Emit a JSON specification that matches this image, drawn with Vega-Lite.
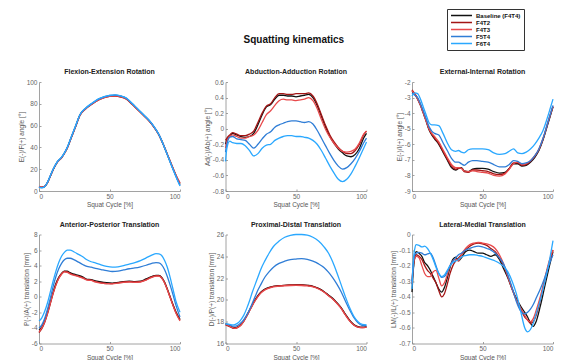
{
"$schema": "https://vega.github.io/schema/vega-lite/v6.json",
"padding": {"left": 18, "top": 8, "right": 0, "bottom": 0},
"background": "white",
"title": {"text": "Squatting kinematics", "fontSize": 10, "anchor": "middle", "dx": 7, "offset": -36, "color": "#111"},
"config": {
"font": "Liberation Sans",
"view": {"stroke": null},
"axis": {"grid": false, "domainColor": "#8a8a8a", "tickColor": "#8a8a8a", "labelColor": "#666", "titleColor": "#555", "labelFontSize": 6.5, "titleFontSize": 6.5, "titleFontWeight": "normal", "tickSize": -2, "labelPadding": 4, "domainWidth": 0.8, "tickWidth": 0.8, "titlePadding": 2},
"title": {"fontSize": 7, "fontWeight": "bold", "color": "#222", "offset": 4}
},
"datasets": {
"fe": [
{"s":"F4T4","x":0,"y":3.8},{"s":"F4T4","x":2,"y":3.3},{"s":"F4T4","x":4,"y":4.1},{"s":"F4T4","x":6,"y":7.7},{"s":"F4T4","x":8,"y":13.6},{"s":"F4T4","x":10,"y":19.6},{"s":"F4T4","x":13,"y":26.6},{"s":"F4T4","x":16,"y":30.7},{"s":"F4T4","x":18,"y":34.6},{"s":"F4T4","x":20,"y":39.5},{"s":"F4T4","x":23,"y":49.5},{"s":"F4T4","x":26,"y":59.5},{"s":"F4T4","x":29,"y":69.6},{"s":"F4T4","x":33,"y":75.6},{"s":"F4T4","x":37,"y":79.6},{"s":"F4T4","x":43,"y":84.5},{"s":"F4T4","x":50,"y":87.3},{"s":"F4T4","x":54,"y":87.7},{"s":"F4T4","x":58,"y":86.8},{"s":"F4T4","x":62,"y":84.7},{"s":"F4T4","x":66,"y":80},{"s":"F4T4","x":70,"y":74.9},{"s":"F4T4","x":74,"y":69.9},{"s":"F4T4","x":78,"y":64.7},{"s":"F4T4","x":81,"y":59.8},{"s":"F4T4","x":85,"y":51.7},{"s":"F4T4","x":89,"y":40},{"s":"F4T4","x":92,"y":30.2},{"s":"F4T4","x":95,"y":20.5},{"s":"F4T4","x":98,"y":11.3},{"s":"F4T4","x":100,"y":6},
{"s":"F4T2","x":0,"y":4},{"s":"F4T2","x":2,"y":3.5},{"s":"F4T2","x":4,"y":4.2},{"s":"F4T2","x":6,"y":7.6},{"s":"F4T2","x":8,"y":13.5},{"s":"F4T2","x":10,"y":19.5},{"s":"F4T2","x":13,"y":26.5},{"s":"F4T2","x":16,"y":30.5},{"s":"F4T2","x":18,"y":34.5},{"s":"F4T2","x":20,"y":39.3},{"s":"F4T2","x":23,"y":49.3},{"s":"F4T2","x":26,"y":59.3},{"s":"F4T2","x":29,"y":69.4},{"s":"F4T2","x":33,"y":75.3},{"s":"F4T2","x":37,"y":79.2},{"s":"F4T2","x":43,"y":84},{"s":"F4T2","x":50,"y":86.8},{"s":"F4T2","x":54,"y":87.1},{"s":"F4T2","x":58,"y":86.2},{"s":"F4T2","x":62,"y":84.2},{"s":"F4T2","x":66,"y":79.5},{"s":"F4T2","x":70,"y":74.5},{"s":"F4T2","x":74,"y":69.5},{"s":"F4T2","x":78,"y":64.4},{"s":"F4T2","x":81,"y":59.6},{"s":"F4T2","x":85,"y":51.6},{"s":"F4T2","x":89,"y":40.1},{"s":"F4T2","x":92,"y":30.5},{"s":"F4T2","x":95,"y":21},{"s":"F4T2","x":98,"y":12},{"s":"F4T2","x":100,"y":7},
{"s":"F4T3","x":0,"y":4.2},{"s":"F4T3","x":2,"y":3.6},{"s":"F4T3","x":4,"y":4.3},{"s":"F4T3","x":6,"y":7.7},{"s":"F4T3","x":8,"y":13.6},{"s":"F4T3","x":10,"y":19.5},{"s":"F4T3","x":13,"y":26.4},{"s":"F4T3","x":16,"y":30.4},{"s":"F4T3","x":18,"y":34.4},{"s":"F4T3","x":20,"y":39.2},{"s":"F4T3","x":23,"y":49.2},{"s":"F4T3","x":26,"y":59.2},{"s":"F4T3","x":29,"y":69.3},{"s":"F4T3","x":33,"y":75.2},{"s":"F4T3","x":37,"y":79.3},{"s":"F4T3","x":43,"y":84.1},{"s":"F4T3","x":50,"y":86.9},{"s":"F4T3","x":54,"y":87.3},{"s":"F4T3","x":58,"y":86.4},{"s":"F4T3","x":62,"y":84.4},{"s":"F4T3","x":66,"y":79.7},{"s":"F4T3","x":70,"y":74.6},{"s":"F4T3","x":74,"y":69.6},{"s":"F4T3","x":78,"y":64.5},{"s":"F4T3","x":81,"y":59.7},{"s":"F4T3","x":85,"y":51.7},{"s":"F4T3","x":89,"y":40.2},{"s":"F4T3","x":92,"y":30.6},{"s":"F4T3","x":95,"y":21.2},{"s":"F4T3","x":98,"y":12.3},{"s":"F4T3","x":100,"y":7.5},
{"s":"F5T4","x":0,"y":3.6},{"s":"F5T4","x":2,"y":3.1},{"s":"F5T4","x":4,"y":4},{"s":"F5T4","x":6,"y":7.8},{"s":"F5T4","x":8,"y":13.8},{"s":"F5T4","x":10,"y":19.8},{"s":"F5T4","x":13,"y":26.8},{"s":"F5T4","x":16,"y":30.8},{"s":"F5T4","x":18,"y":34.8},{"s":"F5T4","x":20,"y":39.8},{"s":"F5T4","x":23,"y":49.7},{"s":"F5T4","x":26,"y":59.7},{"s":"F5T4","x":29,"y":69.8},{"s":"F5T4","x":33,"y":75.8},{"s":"F5T4","x":37,"y":79.8},{"s":"F5T4","x":43,"y":84.8},{"s":"F5T4","x":50,"y":87.6},{"s":"F5T4","x":54,"y":88},{"s":"F5T4","x":58,"y":87.1},{"s":"F5T4","x":62,"y":85},{"s":"F5T4","x":66,"y":80.3},{"s":"F5T4","x":70,"y":75.2},{"s":"F5T4","x":74,"y":70.1},{"s":"F5T4","x":78,"y":64.9},{"s":"F5T4","x":81,"y":60},{"s":"F5T4","x":85,"y":51.8},{"s":"F5T4","x":89,"y":39.9},{"s":"F5T4","x":92,"y":30},{"s":"F5T4","x":95,"y":20.2},{"s":"F5T4","x":98,"y":10.8},{"s":"F5T4","x":100,"y":5},
{"s":"F6T4","x":0,"y":3.5},{"s":"F6T4","x":2,"y":3},{"s":"F6T4","x":4,"y":4},{"s":"F6T4","x":6,"y":8},{"s":"F6T4","x":8,"y":14},{"s":"F6T4","x":10,"y":20},{"s":"F6T4","x":13,"y":27},{"s":"F6T4","x":16,"y":31},{"s":"F6T4","x":18,"y":35},{"s":"F6T4","x":20,"y":40},{"s":"F6T4","x":23,"y":50},{"s":"F6T4","x":26,"y":60},{"s":"F6T4","x":29,"y":70},{"s":"F6T4","x":33,"y":76},{"s":"F6T4","x":37,"y":80},{"s":"F6T4","x":43,"y":85},{"s":"F6T4","x":50,"y":87.8},{"s":"F6T4","x":54,"y":88.2},{"s":"F6T4","x":58,"y":87.3},{"s":"F6T4","x":62,"y":85.3},{"s":"F6T4","x":66,"y":80.5},{"s":"F6T4","x":70,"y":75.3},{"s":"F6T4","x":74,"y":70.2},{"s":"F6T4","x":78,"y":65},{"s":"F6T4","x":81,"y":60.2},{"s":"F6T4","x":85,"y":52},{"s":"F6T4","x":89,"y":40},{"s":"F6T4","x":92,"y":30},{"s":"F6T4","x":95,"y":20},{"s":"F6T4","x":98,"y":10.5},{"s":"F6T4","x":100,"y":4.5}
],
"aa": [
{"s":"F4T4","x":0,"y":-0.2},{"s":"F4T4","x":1,"y":-0.14},{"s":"F4T4","x":3,"y":-0.1},{"s":"F4T4","x":5,"y":-0.06},{"s":"F4T4","x":8,"y":-0.08},{"s":"F4T4","x":11,"y":-0.1},{"s":"F4T4","x":14,"y":-0.11},{"s":"F4T4","x":17,"y":-0.1},{"s":"F4T4","x":20,"y":-0.06},{"s":"F4T4","x":23,"y":0.05},{"s":"F4T4","x":26,"y":0.18},{"s":"F4T4","x":29,"y":0.28},{"s":"F4T4","x":32,"y":0.31},{"s":"F4T4","x":35,"y":0.38},{"s":"F4T4","x":38,"y":0.43},{"s":"F4T4","x":41,"y":0.43},{"s":"F4T4","x":44,"y":0.42},{"s":"F4T4","x":47,"y":0.42},{"s":"F4T4","x":50,"y":0.41},{"s":"F4T4","x":53,"y":0.42},{"s":"F4T4","x":56,"y":0.43},{"s":"F4T4","x":59,"y":0.44},{"s":"F4T4","x":62,"y":0.4},{"s":"F4T4","x":65,"y":0.3},{"s":"F4T4","x":68,"y":0.16},{"s":"F4T4","x":71,"y":0.02},{"s":"F4T4","x":74,"y":-0.1},{"s":"F4T4","x":77,"y":-0.19},{"s":"F4T4","x":80,"y":-0.26},{"s":"F4T4","x":83,"y":-0.31},{"s":"F4T4","x":86,"y":-0.35},{"s":"F4T4","x":89,"y":-0.36},{"s":"F4T4","x":92,"y":-0.33},{"s":"F4T4","x":95,"y":-0.25},{"s":"F4T4","x":98,"y":-0.12},{"s":"F4T4","x":100,"y":-0.06},
{"s":"F4T2","x":0,"y":-0.15},{"s":"F4T2","x":1,"y":-0.12},{"s":"F4T2","x":3,"y":-0.08},{"s":"F4T2","x":5,"y":-0.05},{"s":"F4T2","x":8,"y":-0.07},{"s":"F4T2","x":11,"y":-0.09},{"s":"F4T2","x":14,"y":-0.09},{"s":"F4T2","x":17,"y":-0.07},{"s":"F4T2","x":20,"y":-0.03},{"s":"F4T2","x":23,"y":0.08},{"s":"F4T2","x":26,"y":0.2},{"s":"F4T2","x":29,"y":0.29},{"s":"F4T2","x":32,"y":0.32},{"s":"F4T2","x":35,"y":0.4},{"s":"F4T2","x":38,"y":0.45},{"s":"F4T2","x":41,"y":0.45},{"s":"F4T2","x":44,"y":0.44},{"s":"F4T2","x":47,"y":0.44},{"s":"F4T2","x":50,"y":0.45},{"s":"F4T2","x":53,"y":0.45},{"s":"F4T2","x":56,"y":0.45},{"s":"F4T2","x":59,"y":0.46},{"s":"F4T2","x":62,"y":0.42},{"s":"F4T2","x":65,"y":0.32},{"s":"F4T2","x":68,"y":0.18},{"s":"F4T2","x":71,"y":0.04},{"s":"F4T2","x":74,"y":-0.08},{"s":"F4T2","x":77,"y":-0.17},{"s":"F4T2","x":80,"y":-0.24},{"s":"F4T2","x":83,"y":-0.29},{"s":"F4T2","x":86,"y":-0.32},{"s":"F4T2","x":89,"y":-0.32},{"s":"F4T2","x":92,"y":-0.28},{"s":"F4T2","x":95,"y":-0.2},{"s":"F4T2","x":98,"y":-0.08},{"s":"F4T2","x":100,"y":-0.03},
{"s":"F4T3","x":0,"y":-0.25},{"s":"F4T3","x":1,"y":-0.16},{"s":"F4T3","x":3,"y":-0.1},{"s":"F4T3","x":5,"y":-0.08},{"s":"F4T3","x":8,"y":-0.1},{"s":"F4T3","x":11,"y":-0.12},{"s":"F4T3","x":14,"y":-0.12},{"s":"F4T3","x":17,"y":-0.1},{"s":"F4T3","x":20,"y":-0.08},{"s":"F4T3","x":23,"y":-0.02},{"s":"F4T3","x":26,"y":0.08},{"s":"F4T3","x":29,"y":0.18},{"s":"F4T3","x":32,"y":0.23},{"s":"F4T3","x":35,"y":0.3},{"s":"F4T3","x":38,"y":0.36},{"s":"F4T3","x":41,"y":0.38},{"s":"F4T3","x":44,"y":0.37},{"s":"F4T3","x":47,"y":0.37},{"s":"F4T3","x":50,"y":0.36},{"s":"F4T3","x":53,"y":0.37},{"s":"F4T3","x":56,"y":0.38},{"s":"F4T3","x":59,"y":0.4},{"s":"F4T3","x":62,"y":0.36},{"s":"F4T3","x":65,"y":0.26},{"s":"F4T3","x":68,"y":0.12},{"s":"F4T3","x":71,"y":-0.01},{"s":"F4T3","x":74,"y":-0.11},{"s":"F4T3","x":77,"y":-0.19},{"s":"F4T3","x":80,"y":-0.25},{"s":"F4T3","x":83,"y":-0.29},{"s":"F4T3","x":86,"y":-0.3},{"s":"F4T3","x":89,"y":-0.29},{"s":"F4T3","x":92,"y":-0.26},{"s":"F4T3","x":95,"y":-0.18},{"s":"F4T3","x":98,"y":-0.07},{"s":"F4T3","x":100,"y":-0.03},
{"s":"F5T4","x":0,"y":-0.3},{"s":"F5T4","x":1,"y":-0.2},{"s":"F5T4","x":3,"y":-0.11},{"s":"F5T4","x":5,"y":-0.1},{"s":"F5T4","x":8,"y":-0.13},{"s":"F5T4","x":11,"y":-0.14},{"s":"F5T4","x":14,"y":-0.15},{"s":"F5T4","x":17,"y":-0.2},{"s":"F5T4","x":20,"y":-0.25},{"s":"F5T4","x":23,"y":-0.2},{"s":"F5T4","x":26,"y":-0.13},{"s":"F5T4","x":29,"y":-0.07},{"s":"F5T4","x":32,"y":-0.04},{"s":"F5T4","x":35,"y":0.02},{"s":"F5T4","x":38,"y":0.05},{"s":"F5T4","x":41,"y":0.07},{"s":"F5T4","x":44,"y":0.09},{"s":"F5T4","x":47,"y":0.1},{"s":"F5T4","x":50,"y":0.1},{"s":"F5T4","x":53,"y":0.09},{"s":"F5T4","x":56,"y":0.08},{"s":"F5T4","x":59,"y":0.09},{"s":"F5T4","x":62,"y":0.06},{"s":"F5T4","x":65,"y":-0.02},{"s":"F5T4","x":68,"y":-0.12},{"s":"F5T4","x":71,"y":-0.22},{"s":"F5T4","x":74,"y":-0.32},{"s":"F5T4","x":77,"y":-0.41},{"s":"F5T4","x":80,"y":-0.48},{"s":"F5T4","x":83,"y":-0.52},{"s":"F5T4","x":86,"y":-0.5},{"s":"F5T4","x":89,"y":-0.45},{"s":"F5T4","x":92,"y":-0.38},{"s":"F5T4","x":95,"y":-0.29},{"s":"F5T4","x":98,"y":-0.18},{"s":"F5T4","x":100,"y":-0.12},
{"s":"F6T4","x":0,"y":-0.42},{"s":"F6T4","x":1,"y":-0.25},{"s":"F6T4","x":3,"y":-0.16},{"s":"F6T4","x":5,"y":-0.18},{"s":"F6T4","x":8,"y":-0.19},{"s":"F6T4","x":11,"y":-0.19},{"s":"F6T4","x":14,"y":-0.22},{"s":"F6T4","x":17,"y":-0.28},{"s":"F6T4","x":20,"y":-0.35},{"s":"F6T4","x":23,"y":-0.32},{"s":"F6T4","x":26,"y":-0.25},{"s":"F6T4","x":29,"y":-0.21},{"s":"F6T4","x":32,"y":-0.2},{"s":"F6T4","x":35,"y":-0.15},{"s":"F6T4","x":38,"y":-0.12},{"s":"F6T4","x":41,"y":-0.1},{"s":"F6T4","x":44,"y":-0.09},{"s":"F6T4","x":47,"y":-0.09},{"s":"F6T4","x":50,"y":-0.1},{"s":"F6T4","x":53,"y":-0.1},{"s":"F6T4","x":56,"y":-0.11},{"s":"F6T4","x":59,"y":-0.12},{"s":"F6T4","x":62,"y":-0.15},{"s":"F6T4","x":65,"y":-0.2},{"s":"F6T4","x":68,"y":-0.28},{"s":"F6T4","x":71,"y":-0.38},{"s":"F6T4","x":74,"y":-0.48},{"s":"F6T4","x":77,"y":-0.57},{"s":"F6T4","x":80,"y":-0.65},{"s":"F6T4","x":83,"y":-0.68},{"s":"F6T4","x":86,"y":-0.65},{"s":"F6T4","x":89,"y":-0.58},{"s":"F6T4","x":92,"y":-0.48},{"s":"F6T4","x":95,"y":-0.37},{"s":"F6T4","x":98,"y":-0.25},{"s":"F6T4","x":100,"y":-0.17}
],
"ei": [
{"s":"F4T4","x":0,"y":-2.6},{"s":"F4T4","x":2,"y":-2.8},{"s":"F4T4","x":4,"y":-3.1},{"s":"F4T4","x":6,"y":-3.5},{"s":"F4T4","x":8,"y":-4},{"s":"F4T4","x":10,"y":-4.5},{"s":"F4T4","x":12,"y":-5.05},{"s":"F4T4","x":14,"y":-5.4},{"s":"F4T4","x":16,"y":-5.65},{"s":"F4T4","x":19,"y":-6},{"s":"F4T4","x":22,"y":-6.5},{"s":"F4T4","x":25,"y":-7},{"s":"F4T4","x":28,"y":-7.5},{"s":"F4T4","x":31,"y":-7.65},{"s":"F4T4","x":33,"y":-7.55},{"s":"F4T4","x":35,"y":-7.5},{"s":"F4T4","x":37,"y":-7.7},{"s":"F4T4","x":40,"y":-7.75},{"s":"F4T4","x":43,"y":-7.6},{"s":"F4T4","x":46,"y":-7.55},{"s":"F4T4","x":50,"y":-7.55},{"s":"F4T4","x":54,"y":-7.6},{"s":"F4T4","x":58,"y":-7.75},{"s":"F4T4","x":62,"y":-7.85},{"s":"F4T4","x":66,"y":-7.8},{"s":"F4T4","x":69,"y":-7.55},{"s":"F4T4","x":72,"y":-7.25},{"s":"F4T4","x":75,"y":-7.25},{"s":"F4T4","x":78,"y":-7.4},{"s":"F4T4","x":81,"y":-7.35},{"s":"F4T4","x":84,"y":-7.15},{"s":"F4T4","x":87,"y":-6.85},{"s":"F4T4","x":90,"y":-6.4},{"s":"F4T4","x":93,"y":-5.7},{"s":"F4T4","x":96,"y":-4.8},{"s":"F4T4","x":98,"y":-4.2},{"s":"F4T4","x":100,"y":-3.6},
{"s":"F4T2","x":0,"y":-2.5},{"s":"F4T2","x":2,"y":-2.75},{"s":"F4T2","x":4,"y":-3.05},{"s":"F4T2","x":6,"y":-3.45},{"s":"F4T2","x":8,"y":-3.95},{"s":"F4T2","x":10,"y":-4.45},{"s":"F4T2","x":12,"y":-5},{"s":"F4T2","x":14,"y":-5.35},{"s":"F4T2","x":16,"y":-5.6},{"s":"F4T2","x":19,"y":-5.95},{"s":"F4T2","x":22,"y":-6.45},{"s":"F4T2","x":25,"y":-6.95},{"s":"F4T2","x":28,"y":-7.4},{"s":"F4T2","x":31,"y":-7.6},{"s":"F4T2","x":33,"y":-7.55},{"s":"F4T2","x":35,"y":-7.55},{"s":"F4T2","x":37,"y":-7.75},{"s":"F4T2","x":40,"y":-7.8},{"s":"F4T2","x":43,"y":-7.65},{"s":"F4T2","x":46,"y":-7.65},{"s":"F4T2","x":50,"y":-7.7},{"s":"F4T2","x":54,"y":-7.75},{"s":"F4T2","x":58,"y":-7.9},{"s":"F4T2","x":62,"y":-7.95},{"s":"F4T2","x":66,"y":-7.85},{"s":"F4T2","x":69,"y":-7.55},{"s":"F4T2","x":72,"y":-7.2},{"s":"F4T2","x":75,"y":-7.2},{"s":"F4T2","x":78,"y":-7.35},{"s":"F4T2","x":81,"y":-7.3},{"s":"F4T2","x":84,"y":-7.1},{"s":"F4T2","x":87,"y":-6.8},{"s":"F4T2","x":90,"y":-6.35},{"s":"F4T2","x":93,"y":-5.65},{"s":"F4T2","x":96,"y":-4.75},{"s":"F4T2","x":98,"y":-4.15},{"s":"F4T2","x":100,"y":-3.6},
{"s":"F4T3","x":0,"y":-2.55},{"s":"F4T3","x":2,"y":-2.8},{"s":"F4T3","x":4,"y":-3.1},{"s":"F4T3","x":6,"y":-3.5},{"s":"F4T3","x":8,"y":-4},{"s":"F4T3","x":10,"y":-4.5},{"s":"F4T3","x":12,"y":-5},{"s":"F4T3","x":14,"y":-5.3},{"s":"F4T3","x":16,"y":-5.5},{"s":"F4T3","x":19,"y":-5.85},{"s":"F4T3","x":22,"y":-6.35},{"s":"F4T3","x":25,"y":-6.85},{"s":"F4T3","x":28,"y":-7.3},{"s":"F4T3","x":31,"y":-7.5},{"s":"F4T3","x":33,"y":-7.5},{"s":"F4T3","x":35,"y":-7.55},{"s":"F4T3","x":37,"y":-7.7},{"s":"F4T3","x":40,"y":-7.75},{"s":"F4T3","x":43,"y":-7.7},{"s":"F4T3","x":46,"y":-7.75},{"s":"F4T3","x":50,"y":-7.8},{"s":"F4T3","x":54,"y":-7.85},{"s":"F4T3","x":58,"y":-8},{"s":"F4T3","x":62,"y":-8.05},{"s":"F4T3","x":66,"y":-7.9},{"s":"F4T3","x":69,"y":-7.6},{"s":"F4T3","x":72,"y":-7.25},{"s":"F4T3","x":75,"y":-7.15},{"s":"F4T3","x":78,"y":-7.3},{"s":"F4T3","x":81,"y":-7.25},{"s":"F4T3","x":84,"y":-7.05},{"s":"F4T3","x":87,"y":-6.75},{"s":"F4T3","x":90,"y":-6.3},{"s":"F4T3","x":93,"y":-5.6},{"s":"F4T3","x":96,"y":-4.7},{"s":"F4T3","x":98,"y":-4.1},{"s":"F4T3","x":100,"y":-3.55},
{"s":"F5T4","x":0,"y":-2.7},{"s":"F5T4","x":2,"y":-2.85},{"s":"F5T4","x":4,"y":-3},{"s":"F5T4","x":6,"y":-3.4},{"s":"F5T4","x":8,"y":-3.85},{"s":"F5T4","x":10,"y":-4.35},{"s":"F5T4","x":12,"y":-4.85},{"s":"F5T4","x":14,"y":-5.15},{"s":"F5T4","x":16,"y":-5.3},{"s":"F5T4","x":19,"y":-5.4},{"s":"F5T4","x":22,"y":-5.9},{"s":"F5T4","x":25,"y":-6.4},{"s":"F5T4","x":28,"y":-6.9},{"s":"F5T4","x":31,"y":-7.15},{"s":"F5T4","x":33,"y":-7.15},{"s":"F5T4","x":35,"y":-7.25},{"s":"F5T4","x":37,"y":-7.35},{"s":"F5T4","x":40,"y":-7.15},{"s":"F5T4","x":43,"y":-7.05},{"s":"F5T4","x":46,"y":-7.05},{"s":"F5T4","x":50,"y":-7.1},{"s":"F5T4","x":54,"y":-7.15},{"s":"F5T4","x":58,"y":-7.3},{"s":"F5T4","x":62,"y":-7.45},{"s":"F5T4","x":66,"y":-7.45},{"s":"F5T4","x":69,"y":-7.3},{"s":"F5T4","x":72,"y":-7.05},{"s":"F5T4","x":75,"y":-7.1},{"s":"F5T4","x":78,"y":-7.25},{"s":"F5T4","x":81,"y":-7.2},{"s":"F5T4","x":84,"y":-7.05},{"s":"F5T4","x":87,"y":-6.75},{"s":"F5T4","x":90,"y":-6.3},{"s":"F5T4","x":93,"y":-5.6},{"s":"F5T4","x":96,"y":-4.7},{"s":"F5T4","x":98,"y":-4.1},{"s":"F5T4","x":100,"y":-3.5},
{"s":"F6T4","x":0,"y":-2.9},{"s":"F6T4","x":2,"y":-2.7},{"s":"F6T4","x":4,"y":-2.75},{"s":"F6T4","x":6,"y":-3.1},{"s":"F6T4","x":8,"y":-3.6},{"s":"F6T4","x":10,"y":-4.1},{"s":"F6T4","x":12,"y":-4.6},{"s":"F6T4","x":14,"y":-4.75},{"s":"F6T4","x":16,"y":-4.75},{"s":"F6T4","x":19,"y":-4.8},{"s":"F6T4","x":22,"y":-5.3},{"s":"F6T4","x":25,"y":-5.9},{"s":"F6T4","x":28,"y":-6.35},{"s":"F6T4","x":31,"y":-6.45},{"s":"F6T4","x":33,"y":-6.4},{"s":"F6T4","x":35,"y":-6.5},{"s":"F6T4","x":37,"y":-6.55},{"s":"F6T4","x":40,"y":-6.35},{"s":"F6T4","x":43,"y":-6.3},{"s":"F6T4","x":46,"y":-6.3},{"s":"F6T4","x":50,"y":-6.3},{"s":"F6T4","x":54,"y":-6.35},{"s":"F6T4","x":58,"y":-6.55},{"s":"F6T4","x":62,"y":-6.65},{"s":"F6T4","x":66,"y":-6.6},{"s":"F6T4","x":69,"y":-6.45},{"s":"F6T4","x":72,"y":-6.3},{"s":"F6T4","x":75,"y":-6.55},{"s":"F6T4","x":78,"y":-6.6},{"s":"F6T4","x":81,"y":-6.5},{"s":"F6T4","x":84,"y":-6.3},{"s":"F6T4","x":87,"y":-6},{"s":"F6T4","x":90,"y":-5.6},{"s":"F6T4","x":93,"y":-5.1},{"s":"F6T4","x":96,"y":-4.3},{"s":"F6T4","x":98,"y":-3.7},{"s":"F6T4","x":100,"y":-3.1}
],
"ap": [
{"s":"F4T4","x":0,"y":-4.3},{"s":"F4T4","x":2,"y":-3.9},{"s":"F4T4","x":4,"y":-3.1},{"s":"F4T4","x":6,"y":-2},{"s":"F4T4","x":8,"y":-0.7},{"s":"F4T4","x":10,"y":0.6},{"s":"F4T4","x":12,"y":1.7},{"s":"F4T4","x":14,"y":2.5},{"s":"F4T4","x":16,"y":3},{"s":"F4T4","x":18,"y":3.3},{"s":"F4T4","x":20,"y":3.3},{"s":"F4T4","x":22,"y":3.1},{"s":"F4T4","x":25,"y":2.9},{"s":"F4T4","x":28,"y":2.75},{"s":"F4T4","x":31,"y":2.55},{"s":"F4T4","x":34,"y":2.25},{"s":"F4T4","x":37,"y":2.2},{"s":"F4T4","x":40,"y":2.05},{"s":"F4T4","x":44,"y":1.9},{"s":"F4T4","x":48,"y":1.8},{"s":"F4T4","x":52,"y":1.75},{"s":"F4T4","x":56,"y":1.85},{"s":"F4T4","x":60,"y":1.95},{"s":"F4T4","x":64,"y":2},{"s":"F4T4","x":68,"y":1.95},{"s":"F4T4","x":72,"y":2},{"s":"F4T4","x":76,"y":2.3},{"s":"F4T4","x":80,"y":2.6},{"s":"F4T4","x":83,"y":2.75},{"s":"F4T4","x":85,"y":2.75},{"s":"F4T4","x":87,"y":2.5},{"s":"F4T4","x":89,"y":1.9},{"s":"F4T4","x":91,"y":1},{"s":"F4T4","x":93,"y":0},{"s":"F4T4","x":95,"y":-1},{"s":"F4T4","x":97,"y":-1.9},{"s":"F4T4","x":100,"y":-2.9},
{"s":"F4T2","x":0,"y":-4.6},{"s":"F4T2","x":2,"y":-4.1},{"s":"F4T2","x":4,"y":-3.3},{"s":"F4T2","x":6,"y":-2.2},{"s":"F4T2","x":8,"y":-0.9},{"s":"F4T2","x":10,"y":0.4},{"s":"F4T2","x":12,"y":1.55},{"s":"F4T2","x":14,"y":2.4},{"s":"F4T2","x":16,"y":2.95},{"s":"F4T2","x":18,"y":3.25},{"s":"F4T2","x":20,"y":3.2},{"s":"F4T2","x":22,"y":3},{"s":"F4T2","x":25,"y":2.8},{"s":"F4T2","x":28,"y":2.65},{"s":"F4T2","x":31,"y":2.45},{"s":"F4T2","x":34,"y":2.2},{"s":"F4T2","x":37,"y":2.15},{"s":"F4T2","x":40,"y":1.95},{"s":"F4T2","x":44,"y":1.8},{"s":"F4T2","x":48,"y":1.7},{"s":"F4T2","x":52,"y":1.7},{"s":"F4T2","x":56,"y":1.8},{"s":"F4T2","x":60,"y":1.9},{"s":"F4T2","x":64,"y":1.95},{"s":"F4T2","x":68,"y":1.9},{"s":"F4T2","x":72,"y":1.95},{"s":"F4T2","x":76,"y":2.2},{"s":"F4T2","x":80,"y":2.55},{"s":"F4T2","x":83,"y":2.7},{"s":"F4T2","x":85,"y":2.7},{"s":"F4T2","x":87,"y":2.45},{"s":"F4T2","x":89,"y":1.85},{"s":"F4T2","x":91,"y":0.95},{"s":"F4T2","x":93,"y":-0.05},{"s":"F4T2","x":95,"y":-1.05},{"s":"F4T2","x":97,"y":-2},{"s":"F4T2","x":100,"y":-3},
{"s":"F4T3","x":0,"y":-4.5},{"s":"F4T3","x":2,"y":-4},{"s":"F4T3","x":4,"y":-3.25},{"s":"F4T3","x":6,"y":-2.15},{"s":"F4T3","x":8,"y":-0.85},{"s":"F4T3","x":10,"y":0.45},{"s":"F4T3","x":12,"y":1.5},{"s":"F4T3","x":14,"y":2.35},{"s":"F4T3","x":16,"y":2.9},{"s":"F4T3","x":18,"y":3.2},{"s":"F4T3","x":20,"y":3.15},{"s":"F4T3","x":22,"y":2.95},{"s":"F4T3","x":25,"y":2.75},{"s":"F4T3","x":28,"y":2.6},{"s":"F4T3","x":31,"y":2.4},{"s":"F4T3","x":34,"y":2.15},{"s":"F4T3","x":37,"y":2.1},{"s":"F4T3","x":40,"y":1.9},{"s":"F4T3","x":44,"y":1.75},{"s":"F4T3","x":48,"y":1.7},{"s":"F4T3","x":52,"y":1.65},{"s":"F4T3","x":56,"y":1.75},{"s":"F4T3","x":60,"y":1.85},{"s":"F4T3","x":64,"y":1.9},{"s":"F4T3","x":68,"y":1.85},{"s":"F4T3","x":72,"y":1.9},{"s":"F4T3","x":76,"y":2.15},{"s":"F4T3","x":80,"y":2.5},{"s":"F4T3","x":83,"y":2.65},{"s":"F4T3","x":85,"y":2.65},{"s":"F4T3","x":87,"y":2.4},{"s":"F4T3","x":89,"y":1.8},{"s":"F4T3","x":91,"y":0.9},{"s":"F4T3","x":93,"y":-0.1},{"s":"F4T3","x":95,"y":-1.1},{"s":"F4T3","x":97,"y":-2.05},{"s":"F4T3","x":100,"y":-3.1},
{"s":"F5T4","x":0,"y":-4},{"s":"F5T4","x":2,"y":-3.6},{"s":"F5T4","x":4,"y":-2.8},{"s":"F5T4","x":6,"y":-1.6},{"s":"F5T4","x":8,"y":-0.2},{"s":"F5T4","x":10,"y":1.3},{"s":"F5T4","x":12,"y":2.6},{"s":"F5T4","x":14,"y":3.6},{"s":"F5T4","x":16,"y":4.3},{"s":"F5T4","x":18,"y":4.75},{"s":"F5T4","x":20,"y":4.95},{"s":"F5T4","x":22,"y":4.95},{"s":"F5T4","x":25,"y":4.75},{"s":"F5T4","x":28,"y":4.45},{"s":"F5T4","x":31,"y":4.15},{"s":"F5T4","x":34,"y":3.9},{"s":"F5T4","x":37,"y":3.8},{"s":"F5T4","x":40,"y":3.65},{"s":"F5T4","x":44,"y":3.5},{"s":"F5T4","x":48,"y":3.35},{"s":"F5T4","x":52,"y":3.25},{"s":"F5T4","x":56,"y":3.3},{"s":"F5T4","x":60,"y":3.45},{"s":"F5T4","x":64,"y":3.6},{"s":"F5T4","x":68,"y":3.7},{"s":"F5T4","x":72,"y":3.85},{"s":"F5T4","x":76,"y":4.05},{"s":"F5T4","x":80,"y":4.3},{"s":"F5T4","x":83,"y":4.4},{"s":"F5T4","x":85,"y":4.35},{"s":"F5T4","x":87,"y":4.1},{"s":"F5T4","x":89,"y":3.5},{"s":"F5T4","x":91,"y":2.6},{"s":"F5T4","x":93,"y":1.5},{"s":"F5T4","x":95,"y":0.3},{"s":"F5T4","x":97,"y":-1},{"s":"F5T4","x":100,"y":-2.6},
{"s":"F6T4","x":0,"y":-3.1},{"s":"F6T4","x":2,"y":-2.7},{"s":"F6T4","x":4,"y":-1.9},{"s":"F6T4","x":6,"y":-0.8},{"s":"F6T4","x":8,"y":0.6},{"s":"F6T4","x":10,"y":2},{"s":"F6T4","x":12,"y":3.3},{"s":"F6T4","x":14,"y":4.4},{"s":"F6T4","x":16,"y":5.2},{"s":"F6T4","x":18,"y":5.7},{"s":"F6T4","x":20,"y":6},{"s":"F6T4","x":22,"y":6},{"s":"F6T4","x":25,"y":5.75},{"s":"F6T4","x":28,"y":5.45},{"s":"F6T4","x":31,"y":5.15},{"s":"F6T4","x":34,"y":4.75},{"s":"F6T4","x":37,"y":4.5},{"s":"F6T4","x":40,"y":4.35},{"s":"F6T4","x":44,"y":4.1},{"s":"F6T4","x":48,"y":3.9},{"s":"F6T4","x":52,"y":3.8},{"s":"F6T4","x":56,"y":3.85},{"s":"F6T4","x":60,"y":4},{"s":"F6T4","x":64,"y":4.2},{"s":"F6T4","x":68,"y":4.4},{"s":"F6T4","x":72,"y":4.65},{"s":"F6T4","x":76,"y":5},{"s":"F6T4","x":80,"y":5.35},{"s":"F6T4","x":83,"y":5.55},{"s":"F6T4","x":85,"y":5.5},{"s":"F6T4","x":87,"y":5.3},{"s":"F6T4","x":89,"y":4.7},{"s":"F6T4","x":91,"y":3.8},{"s":"F6T4","x":93,"y":2.5},{"s":"F6T4","x":95,"y":1},{"s":"F6T4","x":97,"y":-0.5},{"s":"F6T4","x":100,"y":-2}
],
"pd": [
{"s":"F4T4","x":0,"y":17.8},{"s":"F4T4","x":3,"y":17.65},{"s":"F4T4","x":5,"y":17.5},{"s":"F4T4","x":7,"y":17.45},{"s":"F4T4","x":9,"y":17.55},{"s":"F4T4","x":11,"y":17.75},{"s":"F4T4","x":13,"y":18.1},{"s":"F4T4","x":15,"y":18.55},{"s":"F4T4","x":17,"y":19.05},{"s":"F4T4","x":19,"y":19.55},{"s":"F4T4","x":21,"y":20},{"s":"F4T4","x":23,"y":20.4},{"s":"F4T4","x":25,"y":20.7},{"s":"F4T4","x":28,"y":21},{"s":"F4T4","x":31,"y":21.15},{"s":"F4T4","x":34,"y":21.25},{"s":"F4T4","x":38,"y":21.3},{"s":"F4T4","x":42,"y":21.33},{"s":"F4T4","x":46,"y":21.35},{"s":"F4T4","x":50,"y":21.37},{"s":"F4T4","x":54,"y":21.37},{"s":"F4T4","x":58,"y":21.33},{"s":"F4T4","x":62,"y":21.25},{"s":"F4T4","x":66,"y":21.05},{"s":"F4T4","x":70,"y":20.75},{"s":"F4T4","x":73,"y":20.45},{"s":"F4T4","x":76,"y":20.15},{"s":"F4T4","x":79,"y":19.75},{"s":"F4T4","x":82,"y":19.3},{"s":"F4T4","x":85,"y":18.7},{"s":"F4T4","x":88,"y":18.15},{"s":"F4T4","x":91,"y":17.75},{"s":"F4T4","x":94,"y":17.55},{"s":"F4T4","x":97,"y":17.5},{"s":"F4T4","x":100,"y":17.55},
{"s":"F4T2","x":0,"y":17.7},{"s":"F4T2","x":3,"y":17.55},{"s":"F4T2","x":5,"y":17.42},{"s":"F4T2","x":7,"y":17.38},{"s":"F4T2","x":9,"y":17.5},{"s":"F4T2","x":11,"y":17.7},{"s":"F4T2","x":13,"y":18.05},{"s":"F4T2","x":15,"y":18.5},{"s":"F4T2","x":17,"y":19},{"s":"F4T2","x":19,"y":19.5},{"s":"F4T2","x":21,"y":19.95},{"s":"F4T2","x":23,"y":20.35},{"s":"F4T2","x":25,"y":20.65},{"s":"F4T2","x":28,"y":20.95},{"s":"F4T2","x":31,"y":21.12},{"s":"F4T2","x":34,"y":21.24},{"s":"F4T2","x":38,"y":21.3},{"s":"F4T2","x":42,"y":21.34},{"s":"F4T2","x":46,"y":21.37},{"s":"F4T2","x":50,"y":21.38},{"s":"F4T2","x":54,"y":21.38},{"s":"F4T2","x":58,"y":21.34},{"s":"F4T2","x":62,"y":21.25},{"s":"F4T2","x":66,"y":21.05},{"s":"F4T2","x":70,"y":20.72},{"s":"F4T2","x":73,"y":20.4},{"s":"F4T2","x":76,"y":20.1},{"s":"F4T2","x":79,"y":19.7},{"s":"F4T2","x":82,"y":19.25},{"s":"F4T2","x":85,"y":18.65},{"s":"F4T2","x":88,"y":18.1},{"s":"F4T2","x":91,"y":17.7},{"s":"F4T2","x":94,"y":17.5},{"s":"F4T2","x":97,"y":17.45},{"s":"F4T2","x":100,"y":17.5},
{"s":"F4T3","x":0,"y":17.75},{"s":"F4T3","x":3,"y":17.6},{"s":"F4T3","x":5,"y":17.45},{"s":"F4T3","x":7,"y":17.4},{"s":"F4T3","x":9,"y":17.5},{"s":"F4T3","x":11,"y":17.7},{"s":"F4T3","x":13,"y":18.05},{"s":"F4T3","x":15,"y":18.5},{"s":"F4T3","x":17,"y":18.98},{"s":"F4T3","x":19,"y":19.48},{"s":"F4T3","x":21,"y":19.92},{"s":"F4T3","x":23,"y":20.3},{"s":"F4T3","x":25,"y":20.62},{"s":"F4T3","x":28,"y":20.92},{"s":"F4T3","x":31,"y":21.08},{"s":"F4T3","x":34,"y":21.2},{"s":"F4T3","x":38,"y":21.26},{"s":"F4T3","x":42,"y":21.3},{"s":"F4T3","x":46,"y":21.32},{"s":"F4T3","x":50,"y":21.33},{"s":"F4T3","x":54,"y":21.32},{"s":"F4T3","x":58,"y":21.28},{"s":"F4T3","x":62,"y":21.2},{"s":"F4T3","x":66,"y":21},{"s":"F4T3","x":70,"y":20.7},{"s":"F4T3","x":73,"y":20.38},{"s":"F4T3","x":76,"y":20.08},{"s":"F4T3","x":79,"y":19.68},{"s":"F4T3","x":82,"y":19.22},{"s":"F4T3","x":85,"y":18.62},{"s":"F4T3","x":88,"y":18.08},{"s":"F4T3","x":91,"y":17.7},{"s":"F4T3","x":94,"y":17.5},{"s":"F4T3","x":97,"y":17.47},{"s":"F4T3","x":100,"y":17.5},
{"s":"F5T4","x":0,"y":17.8},{"s":"F5T4","x":3,"y":17.7},{"s":"F5T4","x":5,"y":17.6},{"s":"F5T4","x":7,"y":17.6},{"s":"F5T4","x":9,"y":17.7},{"s":"F5T4","x":11,"y":17.9},{"s":"F5T4","x":13,"y":18.2},{"s":"F5T4","x":15,"y":18.6},{"s":"F5T4","x":17,"y":19.1},{"s":"F5T4","x":19,"y":19.7},{"s":"F5T4","x":21,"y":20.3},{"s":"F5T4","x":23,"y":20.9},{"s":"F5T4","x":25,"y":21.4},{"s":"F5T4","x":28,"y":22.1},{"s":"F5T4","x":31,"y":22.6},{"s":"F5T4","x":34,"y":23},{"s":"F5T4","x":38,"y":23.35},{"s":"F5T4","x":42,"y":23.55},{"s":"F5T4","x":46,"y":23.7},{"s":"F5T4","x":50,"y":23.75},{"s":"F5T4","x":54,"y":23.78},{"s":"F5T4","x":58,"y":23.72},{"s":"F5T4","x":62,"y":23.55},{"s":"F5T4","x":66,"y":23.3},{"s":"F5T4","x":70,"y":22.95},{"s":"F5T4","x":73,"y":22.55},{"s":"F5T4","x":76,"y":22.05},{"s":"F5T4","x":79,"y":21.45},{"s":"F5T4","x":82,"y":20.75},{"s":"F5T4","x":85,"y":19.9},{"s":"F5T4","x":88,"y":19.1},{"s":"F5T4","x":91,"y":18.4},{"s":"F5T4","x":94,"y":17.9},{"s":"F5T4","x":97,"y":17.65},{"s":"F5T4","x":100,"y":17.65},
{"s":"F6T4","x":0,"y":17.8},{"s":"F6T4","x":3,"y":17.75},{"s":"F6T4","x":5,"y":17.7},{"s":"F6T4","x":7,"y":17.75},{"s":"F6T4","x":9,"y":17.9},{"s":"F6T4","x":11,"y":18.2},{"s":"F6T4","x":13,"y":18.6},{"s":"F6T4","x":15,"y":19.2},{"s":"F6T4","x":17,"y":19.9},{"s":"F6T4","x":19,"y":20.7},{"s":"F6T4","x":21,"y":21.4},{"s":"F6T4","x":23,"y":22.1},{"s":"F6T4","x":25,"y":22.8},{"s":"F6T4","x":28,"y":23.6},{"s":"F6T4","x":31,"y":24.3},{"s":"F6T4","x":34,"y":24.9},{"s":"F6T4","x":38,"y":25.4},{"s":"F6T4","x":42,"y":25.75},{"s":"F6T4","x":46,"y":25.92},{"s":"F6T4","x":50,"y":26},{"s":"F6T4","x":54,"y":26},{"s":"F6T4","x":58,"y":25.95},{"s":"F6T4","x":62,"y":25.75},{"s":"F6T4","x":66,"y":25.4},{"s":"F6T4","x":70,"y":24.85},{"s":"F6T4","x":73,"y":24.3},{"s":"F6T4","x":76,"y":23.5},{"s":"F6T4","x":79,"y":22.5},{"s":"F6T4","x":82,"y":21.4},{"s":"F6T4","x":85,"y":20.3},{"s":"F6T4","x":88,"y":19.3},{"s":"F6T4","x":91,"y":18.5},{"s":"F6T4","x":94,"y":18},{"s":"F6T4","x":97,"y":17.75},{"s":"F6T4","x":100,"y":17.7}
],
"lm": [
{"s":"F4T4","x":0,"y":-0.37},{"s":"F4T4","x":1,"y":-0.22},{"s":"F4T4","x":2,"y":-0.14},{"s":"F4T4","x":3,"y":-0.11},{"s":"F4T4","x":5,"y":-0.12},{"s":"F4T4","x":7,"y":-0.14},{"s":"F4T4","x":9,"y":-0.18},{"s":"F4T4","x":11,"y":-0.2},{"s":"F4T4","x":13,"y":-0.23},{"s":"F4T4","x":15,"y":-0.27},{"s":"F4T4","x":17,"y":-0.31},{"s":"F4T4","x":19,"y":-0.35},{"s":"F4T4","x":21,"y":-0.37},{"s":"F4T4","x":23,"y":-0.34},{"s":"F4T4","x":25,"y":-0.28},{"s":"F4T4","x":27,"y":-0.21},{"s":"F4T4","x":29,"y":-0.16},{"s":"F4T4","x":31,"y":-0.145},{"s":"F4T4","x":33,"y":-0.17},{"s":"F4T4","x":35,"y":-0.15},{"s":"F4T4","x":38,"y":-0.11},{"s":"F4T4","x":41,"y":-0.1},{"s":"F4T4","x":44,"y":-0.11},{"s":"F4T4","x":47,"y":-0.12},{"s":"F4T4","x":50,"y":-0.12},{"s":"F4T4","x":53,"y":-0.13},{"s":"F4T4","x":56,"y":-0.14},{"s":"F4T4","x":59,"y":-0.13},{"s":"F4T4","x":62,"y":-0.16},{"s":"F4T4","x":65,"y":-0.22},{"s":"F4T4","x":68,"y":-0.28},{"s":"F4T4","x":71,"y":-0.35},{"s":"F4T4","x":74,"y":-0.41},{"s":"F4T4","x":77,"y":-0.46},{"s":"F4T4","x":80,"y":-0.5},{"s":"F4T4","x":82,"y":-0.53},{"s":"F4T4","x":84,"y":-0.57},{"s":"F4T4","x":86,"y":-0.59},{"s":"F4T4","x":88,"y":-0.56},{"s":"F4T4","x":91,"y":-0.46},{"s":"F4T4","x":94,"y":-0.34},{"s":"F4T4","x":97,"y":-0.22},{"s":"F4T4","x":100,"y":-0.11},
{"s":"F4T2","x":0,"y":-0.32},{"s":"F4T2","x":1,"y":-0.2},{"s":"F4T2","x":2,"y":-0.15},{"s":"F4T2","x":3,"y":-0.13},{"s":"F4T2","x":5,"y":-0.14},{"s":"F4T2","x":7,"y":-0.16},{"s":"F4T2","x":9,"y":-0.2},{"s":"F4T2","x":11,"y":-0.23},{"s":"F4T2","x":13,"y":-0.25},{"s":"F4T2","x":15,"y":-0.28},{"s":"F4T2","x":17,"y":-0.31},{"s":"F4T2","x":19,"y":-0.36},{"s":"F4T2","x":21,"y":-0.4},{"s":"F4T2","x":23,"y":-0.38},{"s":"F4T2","x":25,"y":-0.32},{"s":"F4T2","x":27,"y":-0.25},{"s":"F4T2","x":29,"y":-0.2},{"s":"F4T2","x":31,"y":-0.17},{"s":"F4T2","x":33,"y":-0.15},{"s":"F4T2","x":35,"y":-0.13},{"s":"F4T2","x":38,"y":-0.1},{"s":"F4T2","x":41,"y":-0.075},{"s":"F4T2","x":44,"y":-0.06},{"s":"F4T2","x":47,"y":-0.055},{"s":"F4T2","x":50,"y":-0.06},{"s":"F4T2","x":53,"y":-0.07},{"s":"F4T2","x":56,"y":-0.09},{"s":"F4T2","x":59,"y":-0.11},{"s":"F4T2","x":62,"y":-0.15},{"s":"F4T2","x":65,"y":-0.2},{"s":"F4T2","x":68,"y":-0.27},{"s":"F4T2","x":71,"y":-0.35},{"s":"F4T2","x":74,"y":-0.42},{"s":"F4T2","x":77,"y":-0.48},{"s":"F4T2","x":80,"y":-0.53},{"s":"F4T2","x":82,"y":-0.55},{"s":"F4T2","x":84,"y":-0.57},{"s":"F4T2","x":86,"y":-0.56},{"s":"F4T2","x":88,"y":-0.52},{"s":"F4T2","x":91,"y":-0.42},{"s":"F4T2","x":94,"y":-0.3},{"s":"F4T2","x":97,"y":-0.19},{"s":"F4T2","x":100,"y":-0.1},
{"s":"F4T3","x":0,"y":-0.3},{"s":"F4T3","x":1,"y":-0.19},{"s":"F4T3","x":2,"y":-0.15},{"s":"F4T3","x":3,"y":-0.14},{"s":"F4T3","x":5,"y":-0.15},{"s":"F4T3","x":7,"y":-0.2},{"s":"F4T3","x":9,"y":-0.25},{"s":"F4T3","x":11,"y":-0.27},{"s":"F4T3","x":13,"y":-0.27},{"s":"F4T3","x":15,"y":-0.24},{"s":"F4T3","x":17,"y":-0.23},{"s":"F4T3","x":19,"y":-0.28},{"s":"F4T3","x":21,"y":-0.33},{"s":"F4T3","x":23,"y":-0.31},{"s":"F4T3","x":25,"y":-0.26},{"s":"F4T3","x":27,"y":-0.2},{"s":"F4T3","x":29,"y":-0.17},{"s":"F4T3","x":31,"y":-0.16},{"s":"F4T3","x":33,"y":-0.17},{"s":"F4T3","x":35,"y":-0.13},{"s":"F4T3","x":38,"y":-0.09},{"s":"F4T3","x":41,"y":-0.065},{"s":"F4T3","x":44,"y":-0.055},{"s":"F4T3","x":47,"y":-0.05},{"s":"F4T3","x":50,"y":-0.055},{"s":"F4T3","x":53,"y":-0.06},{"s":"F4T3","x":56,"y":-0.07},{"s":"F4T3","x":59,"y":-0.09},{"s":"F4T3","x":62,"y":-0.13},{"s":"F4T3","x":65,"y":-0.19},{"s":"F4T3","x":68,"y":-0.27},{"s":"F4T3","x":71,"y":-0.35},{"s":"F4T3","x":74,"y":-0.42},{"s":"F4T3","x":77,"y":-0.47},{"s":"F4T3","x":80,"y":-0.52},{"s":"F4T3","x":82,"y":-0.55},{"s":"F4T3","x":84,"y":-0.56},{"s":"F4T3","x":86,"y":-0.54},{"s":"F4T3","x":88,"y":-0.49},{"s":"F4T3","x":91,"y":-0.4},{"s":"F4T3","x":94,"y":-0.29},{"s":"F4T3","x":97,"y":-0.18},{"s":"F4T3","x":100,"y":-0.1},
{"s":"F5T4","x":0,"y":-0.3},{"s":"F5T4","x":1,"y":-0.18},{"s":"F5T4","x":2,"y":-0.13},{"s":"F5T4","x":3,"y":-0.12},{"s":"F5T4","x":5,"y":-0.115},{"s":"F5T4","x":7,"y":-0.12},{"s":"F5T4","x":9,"y":-0.13},{"s":"F5T4","x":11,"y":-0.125},{"s":"F5T4","x":13,"y":-0.12},{"s":"F5T4","x":15,"y":-0.15},{"s":"F5T4","x":17,"y":-0.2},{"s":"F5T4","x":19,"y":-0.25},{"s":"F5T4","x":21,"y":-0.275},{"s":"F5T4","x":23,"y":-0.27},{"s":"F5T4","x":25,"y":-0.24},{"s":"F5T4","x":27,"y":-0.2},{"s":"F5T4","x":29,"y":-0.17},{"s":"F5T4","x":31,"y":-0.15},{"s":"F5T4","x":33,"y":-0.13},{"s":"F5T4","x":35,"y":-0.12},{"s":"F5T4","x":38,"y":-0.1},{"s":"F5T4","x":41,"y":-0.09},{"s":"F5T4","x":44,"y":-0.08},{"s":"F5T4","x":47,"y":-0.075},{"s":"F5T4","x":50,"y":-0.08},{"s":"F5T4","x":53,"y":-0.09},{"s":"F5T4","x":56,"y":-0.1},{"s":"F5T4","x":59,"y":-0.12},{"s":"F5T4","x":62,"y":-0.15},{"s":"F5T4","x":65,"y":-0.19},{"s":"F5T4","x":68,"y":-0.26},{"s":"F5T4","x":71,"y":-0.34},{"s":"F5T4","x":74,"y":-0.43},{"s":"F5T4","x":77,"y":-0.49},{"s":"F5T4","x":80,"y":-0.51},{"s":"F5T4","x":82,"y":-0.5},{"s":"F5T4","x":84,"y":-0.48},{"s":"F5T4","x":86,"y":-0.45},{"s":"F5T4","x":88,"y":-0.41},{"s":"F5T4","x":91,"y":-0.35},{"s":"F5T4","x":94,"y":-0.28},{"s":"F5T4","x":97,"y":-0.2},{"s":"F5T4","x":100,"y":-0.13},
{"s":"F6T4","x":0,"y":-0.35},{"s":"F6T4","x":1,"y":-0.16},{"s":"F6T4","x":2,"y":-0.09},{"s":"F6T4","x":3,"y":-0.065},{"s":"F6T4","x":5,"y":-0.07},{"s":"F6T4","x":7,"y":-0.08},{"s":"F6T4","x":9,"y":-0.075},{"s":"F6T4","x":11,"y":-0.09},{"s":"F6T4","x":13,"y":-0.12},{"s":"F6T4","x":15,"y":-0.16},{"s":"F6T4","x":17,"y":-0.21},{"s":"F6T4","x":19,"y":-0.25},{"s":"F6T4","x":21,"y":-0.27},{"s":"F6T4","x":23,"y":-0.26},{"s":"F6T4","x":25,"y":-0.23},{"s":"F6T4","x":27,"y":-0.2},{"s":"F6T4","x":29,"y":-0.18},{"s":"F6T4","x":31,"y":-0.17},{"s":"F6T4","x":33,"y":-0.16},{"s":"F6T4","x":35,"y":-0.145},{"s":"F6T4","x":38,"y":-0.135},{"s":"F6T4","x":41,"y":-0.13},{"s":"F6T4","x":44,"y":-0.13},{"s":"F6T4","x":47,"y":-0.135},{"s":"F6T4","x":50,"y":-0.14},{"s":"F6T4","x":53,"y":-0.15},{"s":"F6T4","x":56,"y":-0.16},{"s":"F6T4","x":59,"y":-0.17},{"s":"F6T4","x":62,"y":-0.185},{"s":"F6T4","x":65,"y":-0.205},{"s":"F6T4","x":68,"y":-0.24},{"s":"F6T4","x":71,"y":-0.3},{"s":"F6T4","x":74,"y":-0.38},{"s":"F6T4","x":77,"y":-0.49},{"s":"F6T4","x":80,"y":-0.6},{"s":"F6T4","x":82,"y":-0.625},{"s":"F6T4","x":84,"y":-0.61},{"s":"F6T4","x":86,"y":-0.57},{"s":"F6T4","x":88,"y":-0.51},{"s":"F6T4","x":91,"y":-0.42},{"s":"F6T4","x":94,"y":-0.31},{"s":"F6T4","x":97,"y":-0.19},{"s":"F6T4","x":100,"y":-0.04}
]
},
"columns": 3,
"spacing": {"row": 43.5, "column": 45.5},
"bounds": "flush",
"concat": [
{"title": "Flexion-Extension Rotation", "width": 141, "height": 109, "data": {"name": "fe"},
 "mark": {"type": "line", "interpolate": "monotone", "strokeWidth": 1.3},
 "encoding": {
  "x": {"field": "x", "type": "quantitative", "scale": {"domain": [0, 100], "nice": false}, "axis": {"values": [0, 50, 100], "title": "Squat Cycle [%]"}},
  "y": {"field": "y", "type": "quantitative", "scale": {"domain": [0, 100], "nice": false, "zero": false}, "axis": {"values": [0, 20, 40, 60, 80, 100], "title": "E(-)/F(+) angle [°]", "labelExpr": "datum.value < 0 ? '-' + format(-datum.value, '~g') : format(datum.value, '~g')"}},
  "color": {"field": "s", "type": "nominal", "scale": {"domain": ["F4T4", "F4T2", "F4T3", "F5T4", "F6T4"], "range": ["#111111", "#a31515", "#e8494b", "#2f7dd6", "#2aa8ff"]}, "legend": {"orient": "none", "legendX": 408, "legendY": -73, "title": null, "labelExpr": "datum.label == 'F4T4' ? 'Baseline (F4T4)' : datum.label", "symbolType": "stroke", "symbolSize": 440, "symbolStrokeWidth": 1.5, "clipHeight": 7, "rowPadding": 0, "labelFontSize": 6, "labelFontWeight": "bold", "labelColor": "#111", "labelOffset": 3, "padding": 3, "strokeColor": "#333", "fillColor": "#ffffff"}}
 }},
{"title": "Abduction-Adduction Rotation", "width": 141, "height": 109, "data": {"name": "aa"},
 "mark": {"type": "line", "interpolate": "monotone", "strokeWidth": 1.3},
 "encoding": {
  "x": {"field": "x", "type": "quantitative", "scale": {"domain": [0, 100], "nice": false}, "axis": {"values": [0, 50, 100], "title": "Squat Cycle [%]"}},
  "y": {"field": "y", "type": "quantitative", "scale": {"domain": [-0.8, 0.6], "nice": false, "zero": false}, "axis": {"values": [-0.8, -0.6, -0.4, -0.2, 0, 0.2, 0.4, 0.6], "title": "Ad(-)/Ab(+) angle [°]", "labelExpr": "datum.value < 0 ? '-' + format(-datum.value, '~g') : format(datum.value, '~g')"}},
  "color": {"field": "s", "type": "nominal", "scale": {"domain": ["F4T4", "F4T2", "F4T3", "F5T4", "F6T4"], "range": ["#111111", "#a31515", "#e8494b", "#2f7dd6", "#2aa8ff"]}, "legend": {"orient": "none", "legendX": 408, "legendY": -73, "title": null, "labelExpr": "datum.label == 'F4T4' ? 'Baseline (F4T4)' : datum.label", "symbolType": "stroke", "symbolSize": 440, "symbolStrokeWidth": 1.5, "clipHeight": 7, "rowPadding": 0, "labelFontSize": 6, "labelFontWeight": "bold", "labelColor": "#111", "labelOffset": 3, "padding": 3, "strokeColor": "#333", "fillColor": "#ffffff"}}
 }},
{"title": "External-Internal Rotation", "width": 141, "height": 109, "data": {"name": "ei"},
 "mark": {"type": "line", "interpolate": "monotone", "strokeWidth": 1.3},
 "encoding": {
  "x": {"field": "x", "type": "quantitative", "scale": {"domain": [0, 100], "nice": false}, "axis": {"values": [0, 50, 100], "title": "Squat Cycle [%]"}},
  "y": {"field": "y", "type": "quantitative", "scale": {"domain": [-9, -2], "nice": false, "zero": false}, "axis": {"values": [-9, -8, -7, -6, -5, -4, -3, -2], "title": "E(-)/I(+) angle [°]", "labelExpr": "datum.value < 0 ? '-' + format(-datum.value, '~g') : format(datum.value, '~g')"}},
  "color": {"field": "s", "type": "nominal", "scale": {"domain": ["F4T4", "F4T2", "F4T3", "F5T4", "F6T4"], "range": ["#111111", "#a31515", "#e8494b", "#2f7dd6", "#2aa8ff"]}, "legend": {"orient": "none", "legendX": 408, "legendY": -73, "title": null, "labelExpr": "datum.label == 'F4T4' ? 'Baseline (F4T4)' : datum.label", "symbolType": "stroke", "symbolSize": 440, "symbolStrokeWidth": 1.5, "clipHeight": 7, "rowPadding": 0, "labelFontSize": 6, "labelFontWeight": "bold", "labelColor": "#111", "labelOffset": 3, "padding": 3, "strokeColor": "#333", "fillColor": "#ffffff"}}
 }},
{"title": "Anterior-Posterior Translation", "width": 141, "height": 109, "data": {"name": "ap"},
 "mark": {"type": "line", "interpolate": "monotone", "strokeWidth": 1.3},
 "encoding": {
  "x": {"field": "x", "type": "quantitative", "scale": {"domain": [0, 100], "nice": false}, "axis": {"values": [0, 50, 100], "title": "Squat Cycle [%]"}},
  "y": {"field": "y", "type": "quantitative", "scale": {"domain": [-6, 8], "nice": false, "zero": false}, "axis": {"values": [-6, -4, -2, 0, 2, 4, 6, 8], "title": "P(-)/A(+) translation [mm]", "labelExpr": "datum.value < 0 ? '-' + format(-datum.value, '~g') : format(datum.value, '~g')"}},
  "color": {"field": "s", "type": "nominal", "scale": {"domain": ["F4T4", "F4T2", "F4T3", "F5T4", "F6T4"], "range": ["#111111", "#a31515", "#e8494b", "#2f7dd6", "#2aa8ff"]}, "legend": {"orient": "none", "legendX": 408, "legendY": -73, "title": null, "labelExpr": "datum.label == 'F4T4' ? 'Baseline (F4T4)' : datum.label", "symbolType": "stroke", "symbolSize": 440, "symbolStrokeWidth": 1.5, "clipHeight": 7, "rowPadding": 0, "labelFontSize": 6, "labelFontWeight": "bold", "labelColor": "#111", "labelOffset": 3, "padding": 3, "strokeColor": "#333", "fillColor": "#ffffff"}}
 }},
{"title": "Proximal-Distal Translation", "width": 141, "height": 109, "data": {"name": "pd"},
 "mark": {"type": "line", "interpolate": "monotone", "strokeWidth": 1.3},
 "encoding": {
  "x": {"field": "x", "type": "quantitative", "scale": {"domain": [0, 100], "nice": false}, "axis": {"values": [0, 50, 100], "title": "Squat Cycle [%]"}},
  "y": {"field": "y", "type": "quantitative", "scale": {"domain": [16, 26], "nice": false, "zero": false}, "axis": {"values": [16, 18, 20, 22, 24, 26], "title": "D(-)/P(+) translation [mm]", "labelExpr": "datum.value < 0 ? '-' + format(-datum.value, '~g') : format(datum.value, '~g')"}},
  "color": {"field": "s", "type": "nominal", "scale": {"domain": ["F4T4", "F4T2", "F4T3", "F5T4", "F6T4"], "range": ["#111111", "#a31515", "#e8494b", "#2f7dd6", "#2aa8ff"]}, "legend": {"orient": "none", "legendX": 408, "legendY": -73, "title": null, "labelExpr": "datum.label == 'F4T4' ? 'Baseline (F4T4)' : datum.label", "symbolType": "stroke", "symbolSize": 440, "symbolStrokeWidth": 1.5, "clipHeight": 7, "rowPadding": 0, "labelFontSize": 6, "labelFontWeight": "bold", "labelColor": "#111", "labelOffset": 3, "padding": 3, "strokeColor": "#333", "fillColor": "#ffffff"}}
 }},
{"title": "Lateral-Medial Translation", "width": 141, "height": 109, "data": {"name": "lm"},
 "mark": {"type": "line", "interpolate": "monotone", "strokeWidth": 1.3},
 "encoding": {
  "x": {"field": "x", "type": "quantitative", "scale": {"domain": [0, 100], "nice": false}, "axis": {"values": [0, 50, 100], "title": "Squat Cycle [%]"}},
  "y": {"field": "y", "type": "quantitative", "scale": {"domain": [-0.7, 0], "nice": false, "zero": false}, "axis": {"values": [-0.7, -0.6, -0.5, -0.4, -0.3, -0.2, -0.1, 0], "title": "LM(-)/L(+) translation [mm]", "labelExpr": "datum.value < 0 ? '-' + format(-datum.value, '~g') : format(datum.value, '~g')"}},
  "color": {"field": "s", "type": "nominal", "scale": {"domain": ["F4T4", "F4T2", "F4T3", "F5T4", "F6T4"], "range": ["#111111", "#a31515", "#e8494b", "#2f7dd6", "#2aa8ff"]}, "legend": {"orient": "none", "legendX": 408, "legendY": -73, "title": null, "labelExpr": "datum.label == 'F4T4' ? 'Baseline (F4T4)' : datum.label", "symbolType": "stroke", "symbolSize": 440, "symbolStrokeWidth": 1.5, "clipHeight": 7, "rowPadding": 0, "labelFontSize": 6, "labelFontWeight": "bold", "labelColor": "#111", "labelOffset": 3, "padding": 3, "strokeColor": "#333", "fillColor": "#ffffff"}}
 }}
]
}
